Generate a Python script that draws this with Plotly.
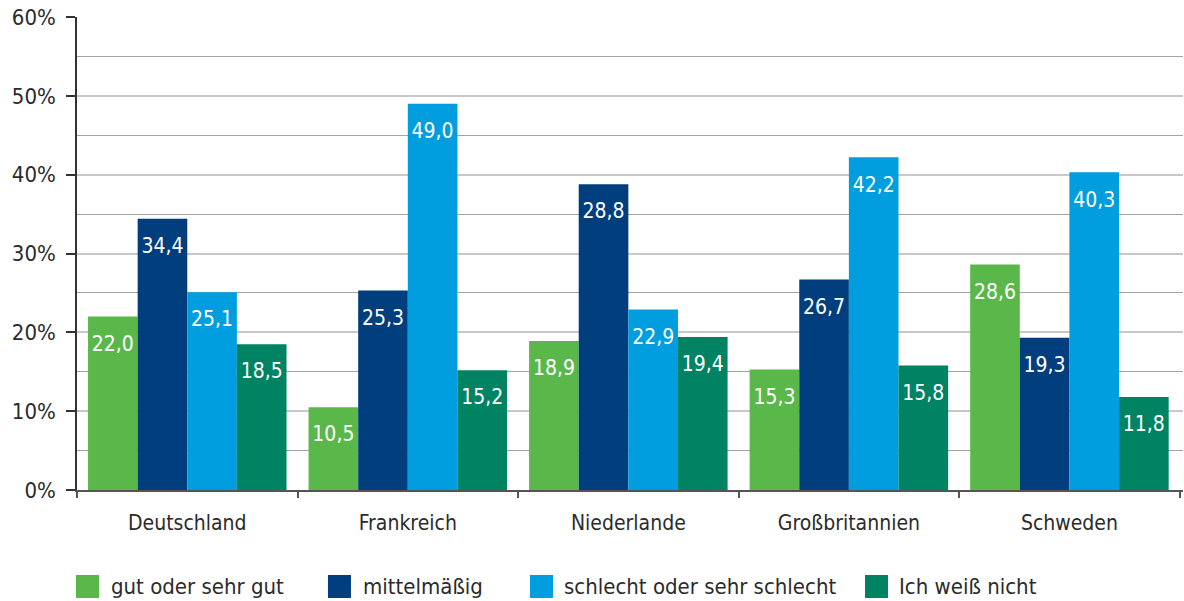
import plotly.graph_objects as go

categories = ["Deutschland", "Frankreich", "Niederlande", "Großbritannien", "Schweden"]
series_names = ["gut oder sehr gut", "mittelmäßig", "schlecht oder sehr schlecht", "Ich weiß nicht"]
colors = ["#5ab84b", "#003e7e", "#009ede", "#008362"]

gut = [22.0, 10.5, 18.9, 15.3, 28.6]
mittel = [34.4, 25.3, 38.8, 26.7, 19.3]
schlecht = [25.1, 49.0, 22.9, 42.2, 40.3]
weiss = [18.5, 15.2, 19.4, 15.8, 11.8]

# printed labels (as shown in the source; one differs from its bar height)
gut_labels = ["22,0", "10,5", "18,9", "15,3", "28,6"]
mittel_labels = ["34,4", "25,3", "28,8", "26,7", "19,3"]
schlecht_labels = ["25,1", "49,0", "22,9", "42,2", "40,3"]
weiss_labels = ["18,5", "15,2", "19,4", "15,8", "11,8"]

y_ticks = [0, 10, 20, 30, 40, 50, 60]
y_ticktext = ["0%", "10%", "20%", "30%", "40%", "50%", "60%"]

values = [gut, mittel, schlecht, weiss]
labels = [gut_labels, mittel_labels, schlecht_labels, weiss_labels]

FONT = "Liberation Sans Narrow, DejaVu Sans Condensed, Arial Narrow, sans-serif"
TXT = "#2b2b2b"

fig = go.Figure()
for name, vals, col in zip(series_names, values, colors):
    fig.add_trace(go.Bar(x=categories, y=vals, name=name, marker=dict(color=col, line=dict(width=0)),
                         showlegend=False, hoverinfo="skip"))

for name, vals, labs in zip(series_names, values, labels):
    fig.add_trace(go.Scatter(x=categories, y=vals, text=labs, mode="markers+text",
                             textposition="bottom center",
                             marker=dict(size=28, color="rgba(0,0,0,0)"),
                             textfont=dict(family=FONT, size=21, color="white"),
                             showlegend=False, hoverinfo="skip"))

# legend drawn as squares + labels below the plot (paper coordinates)
leg_x = [(-0.0009, 0.0199, 0.0289), (0.2269, 0.2477, 0.2568),
         (0.4096, 0.4304, 0.4385), (0.7125, 0.7333, 0.7414)]
shapes = []
annotations = []
for (x0, x1, xt), name, col in zip(leg_x, series_names, colors):
    shapes.append(dict(type="rect", xref="paper", yref="paper", x0=x0, x1=x1, y0=-0.2283, y1=-0.1797,
                       fillcolor=col, line=dict(width=0)))
    annotations.append(dict(text=name, xref="paper", yref="paper", x=xt, y=-0.2050, xanchor="left",
                            yanchor="middle", showarrow=False,
                            font=dict(family=FONT, size=22, color=TXT)))

fig.update_layout(
    width=1184, height=601,
    margin=dict(l=77, r=1, t=17, b=111),
    paper_bgcolor="white", plot_bgcolor="white",
    barmode="group", bargap=0.1, bargroupgap=0,
    scattermode="group", scattergap=0.1,
    font=dict(family=FONT, size=21, color=TXT),
    shapes=shapes, annotations=annotations,
    showlegend=False,
)
fig.update_yaxes(range=[0, 60], tickvals=y_ticks, ticktext=y_ticktext,
                 showgrid=True, gridcolor="#c8c8c8", gridwidth=1.5,
                 minor=dict(dtick=5, showgrid=True, gridcolor="#a3a3a3", gridwidth=1, ticks=""),
                 showline=True, linecolor="#333333", linewidth=1.5,
                 ticks="outside", ticklen=9, tickcolor="#333333", tickwidth=1.5,
                 ticklabelstandoff=6,
                 zeroline=False, tickfont=dict(family=FONT, size=22, color=TXT))
fig.update_xaxes(range=[-0.5, 4.515], showline=True, linecolor="#555555", linewidth=1.5,
                 ticks="outside", tickson="boundaries", ticklen=6, tickcolor="#555555", tickwidth=1.5,
                 ticklabelstandoff=13,
                 tickfont=dict(family=FONT, size=21, color=TXT))

fig.write_html("out.html", config={"displayModeBar": False},
               post_script="document.body.style.margin='0';")
